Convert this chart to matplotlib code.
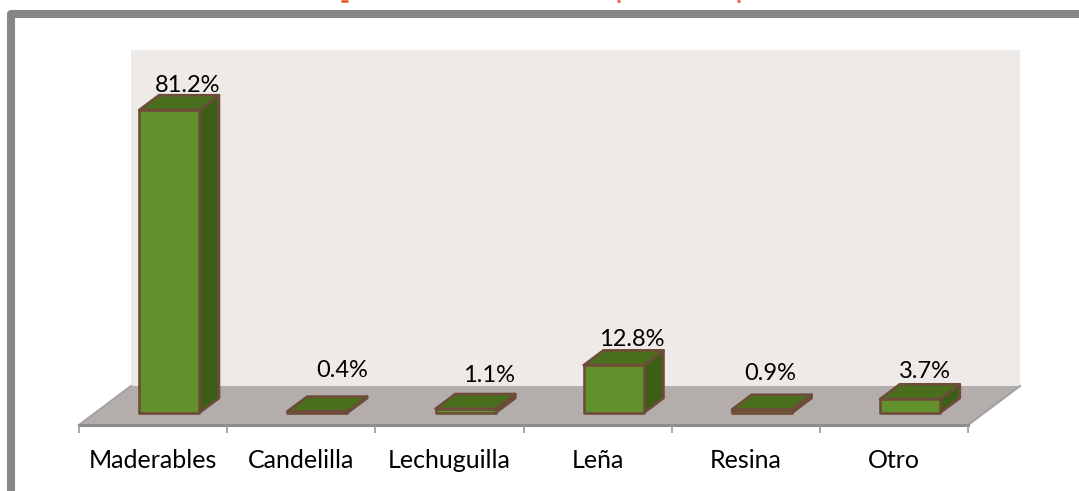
import matplotlib.pyplot as plt

CATEGORIES = ["Maderables", "Candelilla", "Lechuguilla", "Leña", "Resina", "Otro"]
VALUES = [81.2, 0.4, 1.1, 12.8, 0.9, 3.7]
LABELS = ["81.2%", "0.4%", "1.1%", "12.8%", "0.9%", "3.7%"]

# label offset from the back top edge of each bar, in pixels
LABEL_OFFSETS = [(-1, 10), (5, 26), (4, 18), (-2, 11), (-11, 21), (-5, 13)]

W, H = 1079, 491
PX_PER_CAT = 148.17
PX_PER_VAL = 3.73
LEFT_PX = 79
FLOOR_PX = 425
DEPTH_X = 52 / PX_PER_CAT
DEPTH_Y = 39 / PX_PER_VAL
WALL_TOP = 90
BAR_WIDTH = 0.405
BAR_FRONT = 0.31
BAR_BACK = 0.69

FRONT = "#62902a"
TOP = "#4a6f1c"
SIDE = "#3e5e18"
EDGE = "#6f4c3a"
WALL = "#eeeae7"
FLOOR = "#b3aeac"


def project(x, value, depth):
    return x + depth * DEPTH_X, value + depth * DEPTH_Y


def face(ax, corners, color, edge="none", lw=0.0, z=2):
    pts = [project(*c) for c in corners]
    ax.fill([p[0] for p in pts], [p[1] for p in pts], facecolor=color,
            edgecolor=edge, linewidth=lw, joinstyle="round", zorder=z)


def main():
    plt.rcParams["font.family"] = ["Lato", "DejaVu Sans"]
    fig = plt.figure(figsize=(W / 100, H / 100), dpi=100)
    ax = fig.add_axes([0, 0, 1, 1])
    ax.set_xlim(-LEFT_PX / PX_PER_CAT, (W - LEFT_PX) / PX_PER_CAT)
    ax.set_ylim((FLOOR_PX - H) / PX_PER_VAL, FLOOR_PX / PX_PER_VAL)
    ax.axis("off")

    n = len(CATEGORIES)

    # back wall and floor
    face(ax, [(0, 0, 1), (n, 0, 1), (n, WALL_TOP, 1), (0, WALL_TOP, 1)], WALL, z=1)
    face(ax, [(0, 0, 0), (n, 0, 0), (n, 0, 1), (0, 0, 1)], FLOOR, z=1)
    for x in (0, n):
        xs, ys = zip(project(x, 0, 0), project(x, 0, 1))
        ax.plot(xs, ys, color="#a3a3a3", lw=1.5, zorder=1.5)
    ax.plot([0, n], [0, 0], color="#8c8c8c", lw=2.2, zorder=1.5)
    ax.vlines(range(n + 1), -8 / PX_PER_VAL, 0, color="#9a9a9a", lw=1.2, zorder=1.5)

    # bars
    for i, (name, val, lab) in enumerate(zip(CATEGORIES, VALUES, LABELS)):
        x0 = i + 0.5 - BAR_WIDTH / 2
        x1 = i + 0.5 + BAR_WIDTH / 2
        f, b = BAR_FRONT, BAR_BACK
        face(ax, [(x1, 0, f), (x1, 0, b), (x1, val, b), (x1, val, f)], SIDE, EDGE, 1.9, 3)
        face(ax, [(x0, val, f), (x1, val, f), (x1, val, b), (x0, val, b)], TOP, EDGE, 1.9, 3)
        face(ax, [(x0, 0, f), (x1, 0, f), (x1, val, f), (x0, val, f)], FRONT, EDGE, 1.9, 3)

        dx, dy = LABEL_OFFSETS[i]
        ax.annotate(lab, project(i + 0.5, val, BAR_BACK), xytext=(dx * 0.72, dy * 0.72),
                    textcoords="offset points", ha="center", va="center",
                    fontsize=17, color="black", zorder=4)
        ax.text(i + 0.5, -35 / PX_PER_VAL, name, ha="center", va="center",
                fontsize=18, color="black", zorder=4)

    # slide frame and the cut off title descenders, in pixel coordinates
    over = fig.add_axes([0, 0, 1, 1], facecolor="none")
    over.set_xlim(0, W)
    over.set_ylim(H, 0)
    over.axis("off")
    over.plot([11, 11, W + 10], [H + 10, 14, 14], color="#868686", lw=5.8,
              solid_joinstyle="round", solid_capstyle="butt")
    for start, end in [(341, 348), (617, 620), (737, 740)]:
        over.plot([start, end], [0.5, 0.5], color="#e8501f", lw=1.8, solid_capstyle="butt")

    fig.savefig("out.png", dpi=100)


if __name__ == "__main__":
    main()
